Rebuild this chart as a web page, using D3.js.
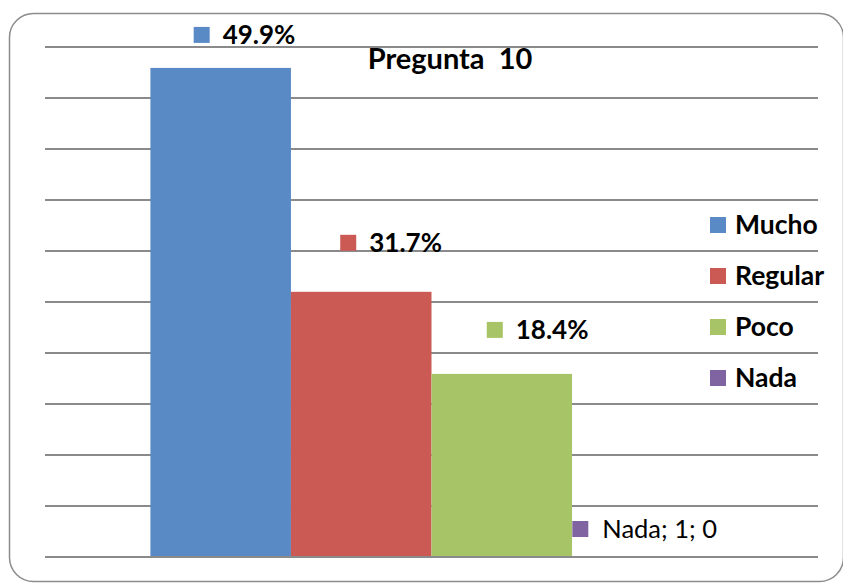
<!DOCTYPE html>
<html>
<head>
<meta charset="utf-8">
<script src="https://cdn.jsdelivr.net/npm/d3@7/dist/d3.min.js"></script>
<style>
  body { margin: 0; background: #fff; }
  svg { display: block; font-family: Lato, "Open Sans", sans-serif; }
</style>
</head>
<body>
<svg width="843" height="583"></svg>
<script>
// chart data
const categories = ["1"];
const series = ["Mucho", "Regular", "Poco", "Nada"];
const barValues = [95.9, 52.0, 35.9, 0];      // bar heights (0-100)
const labelTexts = ["49.9%", "31.7%", "18.4%", "Nada; 1; 0"];
const yTicks = [0, 10, 20, 30, 40, 50, 60, 70, 80, 90, 100];
const colors = ["#5A8AC6", "#CB5A55", "#A7C566", "#8064A2"];

// label placement tweaks (layout, not data)
const labelDx = [-27, -21, -15, -70];
const labelDy = [-24, -40, -35, -19];

const svg = d3.select("svg");
const margin = { left: 45, right: 818, top: 47, bottom: 557 };

// rounded frame
svg.append("rect")
    .attr("x", 9.5).attr("y", 13.5)
    .attr("width", 834).attr("height", 568)
    .attr("rx", 24)
    .attr("fill", "none")
    .attr("stroke", "#8c8c8c")
    .attr("stroke-width", 1.5);

const y = d3.scaleLinear().domain([0, 100]).range([margin.bottom, margin.top]);

const x0 = d3.scaleBand()
    .domain(categories)
    .range([margin.left, margin.right])
    .paddingOuter(0.1875);

const x1 = d3.scaleBand()
    .domain(series)
    .range([0, x0.bandwidth()]);

// gridlines
svg.append("g")
    .selectAll("line")
    .data(yTicks)
    .enter().append("line")
    .attr("x1", margin.left)
    .attr("x2", margin.right)
    .attr("y1", d => y(d))
    .attr("y2", d => y(d))
    .attr("stroke", "#8a8a8a")
    .attr("stroke-width", 2);

// bars
const bars = series.map((s, i) => ({ s, v: barValues[i], c: colors[i], label: labelTexts[i], i }));

svg.append("g")
    .selectAll("rect")
    .data(bars)
    .enter().append("rect")
    .attr("x", d => x0(categories[0]) + x1(d.s))
    .attr("y", d => y(d.v))
    .attr("width", x1.bandwidth())
    .attr("height", d => y(0) - y(d.v))
    .attr("fill", d => d.c);

// redraw baseline on top
svg.append("line")
    .attr("x1", margin.left).attr("x2", margin.right)
    .attr("y1", y(0)).attr("y2", y(0))
    .attr("stroke", "#8a8a8a").attr("stroke-width", 2);

// data labels with legend key
const lab = svg.append("g")
    .selectAll("g")
    .data(bars)
    .enter().append("g")
    .attr("transform", d => {
        const cx = x0(categories[0]) + x1(d.s) + x1.bandwidth() / 2;
        return `translate(${cx + labelDx[d.i]},${y(d.v) + labelDy[d.i]})`;
    });

lab.append("rect")
    .attr("x", 0).attr("y", -17)
    .attr("width", 16).attr("height", 16)
    .attr("fill", d => d.c);

lab.append("text")
    .attr("x", d => d.i === 3 ? 30 : 29)
    .attr("y", 0)
    .attr("font-size", d => d.i === 3 ? 25.5 : 26)
    .attr("font-weight", d => d.i === 3 ? "normal" : "bold")
    .attr("fill", "#000")
    .text(d => d.label);

// title
svg.append("text")
    .attr("x", 450)
    .attr("y", 69)
    .attr("text-anchor", "middle")
    .attr("font-size", 29)
    .attr("font-weight", "bold")
    .attr("fill", "#000")
    .style("white-space", "pre")
    .text("Pregunta  10");

// legend
const legend = svg.append("g")
    .selectAll("g")
    .data(bars)
    .enter().append("g")
    .attr("transform", (d, i) => `translate(710,${234 + i * 51})`);

legend.append("rect")
    .attr("x", 0).attr("y", -17)
    .attr("width", 16).attr("height", 16)
    .attr("fill", d => d.c);

legend.append("text")
    .attr("x", 25)
    .attr("y", 0)
    .attr("font-size", 26.5)
    .attr("font-weight", "bold")
    .attr("fill", "#000")
    .text(d => d.s);
</script>
</body>
</html>
